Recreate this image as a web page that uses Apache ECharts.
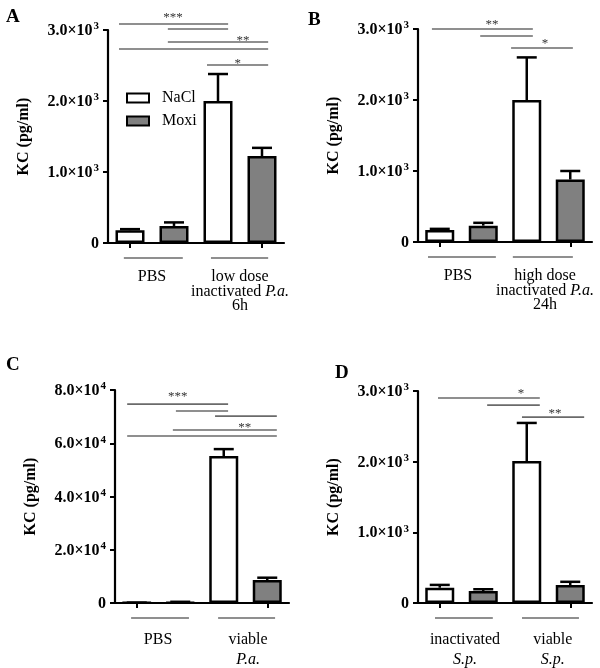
<!DOCTYPE html>
<html>
<head>
<meta charset="utf-8">
<script src="https://cdn.jsdelivr.net/npm/echarts@6/dist/echarts.min.js"></script>
<style>
html,body{margin:0;padding:0;background:#fff;}
#chart{width:600px;height:668px;}
</style>
</head>
<body>
<div id="chart"></div>
<script>
// ---------- data ----------
const categories = ['Group1 NaCl', 'Group1 Moxi', 'Group2 NaCl', 'Group2 Moxi'];
const seriesNames = ['NaCl', 'Moxi'];

// Panel A
const aNaCl = [180, 2000];
const aNaClSem = [15, 380];
const aMoxi = [240, 1225];
const aMoxiSem = [50, 115];
// Panel B
const bNaCl = [170, 2000];
const bNaClSem = [15, 600];
const bMoxi = [230, 880];
const bMoxiSem = [40, 120];
// Panel C
const cNaCl = [100, 55200];
const cNaClSem = [50, 2600];
const cMoxi = [250, 8600];
const cMoxiSem = [200, 900];
// Panel D
const dNaCl = [216, 2008];
const dNaClSem = [40, 540];
const dMoxi = [170, 255];
const dMoxiSem = [25, 45];

// y tick labels
const yLabels3k = ['0', '1.0×10³', '2.0×10³', '3.0×10³'];
const yLabels80k = ['0', '2.0×10⁴', '4.0×10⁴', '6.0×10⁴', '8.0×10⁴'];

// significance lines: [xFrom, xTo, y]  (x in bar-position units)
const aSig = [[-0.25, 2.23, 3085], [0.86, 2.23, 3014], [0.86, 3.14, 2831], [-0.25, 3.14, 2732], [1.75, 3.14, 2507]];
const aStars = [[0.98, 3211, '***'], [2.57, 2887, '**'], [2.45, 2570, '*']];
const bSig = [[-0.18, 2.14, 3000], [0.93, 2.14, 2901], [1.64, 3.06, 2732]];
const bStars = [[1.2, 3099, '**'], [2.42, 2831, '*']];
const cSig = [[-0.22, 2.1, 74700], [0.9, 2.1, 72100], [1.8, 3.22, 70200], [0.83, 3.22, 65000], [-0.22, 3.22, 62700]];
const cStars = [[0.94, 78500, '***'], [2.48, 67200, '**']];
const dSig = [[-0.04, 2.3, 2900], [1.09, 2.3, 2800], [1.89, 3.32, 2631]];
const dStars = [[1.87, 3013, '*'], [2.65, 2730, '**']];

// group labels: [xFrom, xTo, labelX, text]
const aGroups = [[-0.14, 1.2, 0.5, 'PBS'], [1.84, 3.14, 2.5, 'low dose\ninactivated {i|P.a.}\n6h']];
const bGroups = [[-0.27, 1.29, 0.42, 'PBS'], [1.68, 3.06, 2.42, 'high dose\ninactivated {i|P.a.}\n24h']];
const cGroups = [[-0.13, 1.2, 0.49, 'PBS'], [1.87, 3.18, 2.56, 'viable\n{i|P.a.}']];
const dGroups = [[-0.11, 1.22, 0.58, 'inactivated\n{i|S.p.}'], [1.89, 3.2, 2.6, 'viable\n{i|S.p.}']];

const panelLetters = ['A', 'B', 'C', 'D'];

// ---------- build ----------
const FONT = '"Liberation Serif", "Times New Roman", serif';
const SIGCOLOR = '#6a6a6a';
const SUP = {'³': '3', '⁴': '4'};

const panels = [
  {nacl: aNaCl, naclSem: aNaClSem, moxi: aMoxi, moxiSem: aMoxiSem, max: 3000, interval: 1000, labels: yLabels3k,
   sig: aSig, stars: aStars, groups: aGroups, lh: 14.5,
   grid: {left: 108, top: 30, width: 176, height: 213}, title: {left: 1, top: 3}},
  {nacl: bNaCl, naclSem: bNaClSem, moxi: bMoxi, moxiSem: bMoxiSem, max: 3000, interval: 1000, labels: yLabels3k,
   sig: bSig, stars: bStars, groups: bGroups, lh: 14.5,
   grid: {left: 418, top: 29, width: 174, height: 213}, title: {left: 303, top: 6}},
  {nacl: cNaCl, naclSem: cNaClSem, moxi: cMoxi, moxiSem: cMoxiSem, max: 80000, interval: 20000, labels: yLabels80k,
   sig: cSig, stars: cStars, groups: cGroups, lh: 20,
   grid: {left: 115, top: 390, width: 174, height: 213}, title: {left: 1, top: 351}},
  {nacl: dNaCl, naclSem: dNaClSem, moxi: dMoxi, moxiSem: dMoxiSem, max: 3000, interval: 1000, labels: yLabels3k,
   sig: dSig, stars: dStars, groups: dGroups, lh: 20,
   grid: {left: 418, top: 391, width: 174, height: 212}, title: {left: 330, top: 359}}
];

const option = {
  backgroundColor: '#fff',
  animation: false,
  title: [], grid: [], xAxis: [], yAxis: [], series: [],
  legend: {
    data: seriesNames, orient: 'vertical', left: 121, top: 85, itemWidth: 22, itemHeight: 9, itemGap: 7,
    icon: 'rect', selectedMode: false,
    textStyle: {fontFamily: FONT, fontSize: 16, color: '#000', padding: [0, 0, 0, 8]}
  }
};

panels.forEach((p, i) => {
  option.title.push({text: panelLetters[i], left: p.title.left, top: p.title.top,
    textStyle: {fontFamily: FONT, fontSize: 19, fontWeight: 'bold', color: '#000'}});
  option.grid.push(Object.assign({containLabel: false}, p.grid));
  option.xAxis.push({
    type: 'category', gridIndex: i, data: categories,
    axisLine: {onZero: false, lineStyle: {color: '#000', width: 2.2}},
    axisTick: {show: true, alignWithLabel: true, length: 5, lineStyle: {color: '#000', width: 2}},
    axisLabel: {show: false}, splitLine: {show: false}
  });
  option.xAxis.push({type: 'value', gridIndex: i, min: -0.5, max: 3.5, show: false});
  const labels = p.labels, itv = p.interval;
  option.yAxis.push({
    type: 'value', gridIndex: i, min: 0, max: p.max, interval: itv,
    name: 'KC (pg/ml)', nameLocation: 'middle', nameGap: 76, nameRotate: 90,
    nameTextStyle: {fontFamily: FONT, fontSize: 16, fontWeight: 'bold', color: '#000'},
    axisLine: {show: true, onZero: false, lineStyle: {color: '#000', width: 2.2}},
    axisTick: {show: true, length: 5, lineStyle: {color: '#000', width: 2}},
    axisLabel: {margin: 9, fontFamily: FONT, fontSize: 16, fontWeight: 'bold', color: '#000',
      formatter: v => {
        const t = labels[Math.round(v / itv)];
        const m = t.match(/^(.*?)([³⁴])$/);
        return m ? '{b|' + m[1] + '}{s|' + SUP[m[2]] + '}' : '{b|' + t + '}';
      },
      rich: {
        b: {fontFamily: FONT, fontSize: 16, fontWeight: 'bold', color: '#000', lineHeight: 18, verticalAlign: 'bottom'},
        s: {fontFamily: FONT, fontSize: 11, fontWeight: 'bold', color: '#000', lineHeight: 18, verticalAlign: 'top', padding: [0, 0, 0, 1]}
      }
    },
    splitLine: {show: false}
  });
  const xCat = 2 * i, xVal = 2 * i + 1;
  const barStyle = fill => ({color: fill, borderColor: '#000', borderWidth: 2.5});
  option.series.push({
    type: 'bar', name: 'NaCl', xAxisIndex: xCat, yAxisIndex: i, barWidth: 29, barGap: '-100%',
    itemStyle: barStyle('#ffffff'), data: [p.nacl[0], '-', p.nacl[1], '-']
  });
  option.series.push({
    type: 'bar', name: 'Moxi', xAxisIndex: xCat, yAxisIndex: i, barWidth: 29, barGap: '-100%',
    itemStyle: barStyle('#808080'), data: ['-', p.moxi[0], '-', p.moxi[1]]
  });
  // error bars
  const err = [
    [0, p.nacl[0], p.nacl[0] + p.naclSem[0]],
    [1, p.moxi[0], p.moxi[0] + p.moxiSem[0]],
    [2, p.nacl[1], p.nacl[1] + p.naclSem[1]],
    [3, p.moxi[1], p.moxi[1] + p.moxiSem[1]]
  ];
  option.series.push({
    type: 'custom', xAxisIndex: xCat, yAxisIndex: i, z: 5, clip: false,
    data: err,
    renderItem: (params, api) => {
      const b = api.coord([api.value(0), api.value(1)]);
      const t = api.coord([api.value(0), api.value(2)]);
      return {type: 'group', children: [
        {type: 'line', shape: {x1: b[0], y1: b[1], x2: t[0], y2: t[1]}, style: {stroke: '#000', lineWidth: 2.5}},
        {type: 'line', shape: {x1: t[0] - 10, y1: t[1], x2: t[0] + 10, y2: t[1]}, style: {stroke: '#000', lineWidth: 2.5}}
      ]};
    }
  });
  // significance lines
  const sig = p.sig;
  option.series.push({
    type: 'custom', xAxisIndex: xVal, yAxisIndex: i, z: 6, clip: false,
    data: sig,
    renderItem: (params, api) => {
      const r = sig[params.dataIndex];
      const a = api.coord([r[0], r[2]]), b = api.coord([r[1], r[2]]);
      return {type: 'line', shape: {x1: a[0], y1: a[1], x2: b[0], y2: b[1]}, style: {stroke: SIGCOLOR, lineWidth: 1.6}};
    }
  });
  // stars
  const stars = p.stars;
  option.series.push({
    type: 'custom', xAxisIndex: xVal, yAxisIndex: i, z: 6, clip: false,
    data: stars.map(s => [s[0], s[1]]),
    renderItem: (params, api) => {
      const s = stars[params.dataIndex];
      const c = api.coord([s[0], s[1]]);
      return {type: 'text', x: c[0], y: c[1] + 3, style: {text: s[2], fill: '#333', fontFamily: FONT, fontSize: 13,
        align: 'center', verticalAlign: 'middle'}};
    }
  });
  // group lines + labels
  const groups = p.groups, lh = p.lh;
  option.series.push({
    type: 'custom', xAxisIndex: xVal, yAxisIndex: i, z: 6, clip: false,
    data: groups.map(g => [g[0], g[1], g[2]]),
    renderItem: (params, api) => {
      const g = groups[params.dataIndex];
      const a = api.coord([g[0], 0]), b = api.coord([g[1], 0]), c = api.coord([g[2], 0]);
      return {type: 'group', children: [
        {type: 'line', shape: {x1: a[0], y1: a[1] + 15, x2: b[0], y2: b[1] + 15}, style: {stroke: SIGCOLOR, lineWidth: 1.6}},
        {type: 'text', x: c[0], y: c[1] + 27, style: {text: g[3], fill: '#000', fontFamily: FONT, fontSize: 16,
          lineHeight: lh, align: 'center', verticalAlign: 'top',
          rich: {i: {fontStyle: 'italic', fontFamily: FONT, fontSize: 16, lineHeight: lh}}}}
      ]};
    }
  });
});

const chart = echarts.init(document.getElementById('chart'), null, {renderer: 'canvas'});
chart.setOption(option);
</script>
</body>
</html>
